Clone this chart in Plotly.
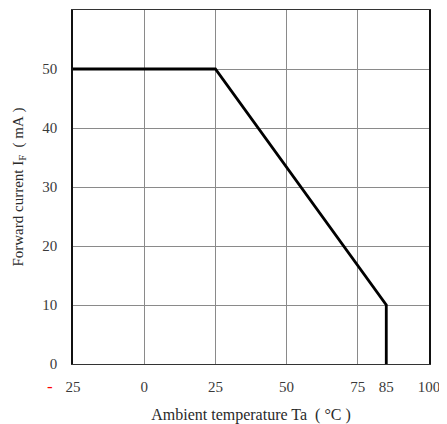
import plotly.graph_objects as go

temp = [-25, 25, 85, 85]
current = [50, 50, 10, 0]
x_ticks = [-25, 0, 25, 50, 75, 85, 100]
x_labels = ["25", "0", "25", "50", "75", "85", "100"]
y_ticks = [0, 10, 20, 30, 40, 50]
y_labels = ["0", "10", "20", "30", "40", "50"]

serif = "Liberation Serif, Times New Roman, serif"
tickfont = dict(family=serif, size=15, color="#3a3a3a")
titlefont = dict(family=serif, size=16, color="#2a2a2a")

fig = go.Figure()
fig.add_trace(go.Scatter(x=temp, y=current, mode="lines",
                         line=dict(color="black", width=2.8), showlegend=False,
                         hoverinfo="skip"))
# invisible trace for the label axis
fig.add_trace(go.Scatter(x=[-25, 100], y=[0, 0], xaxis="x2", mode="markers",
                         marker=dict(opacity=0), showlegend=False, hoverinfo="skip"))

fig.update_layout(
    width=439, height=416,
    margin=dict(l=65, r=18, t=2, b=60),
    paper_bgcolor="white", plot_bgcolor="white",
    font=tickfont,
    xaxis=dict(range=[-25, 100], dtick=25, tick0=-25, showgrid=True,
               gridcolor="#8a8a8a", gridwidth=1, showticklabels=False,
               ticks="", showline=True, linecolor="#333333", linewidth=1.3,
               mirror=True, zeroline=False,
               title=dict(text="Ambient temperature Ta\u00a0\u00a0(\u00a0°C\u00a0)", standoff=46,
                          font=titlefont)),
    xaxis2=dict(range=[-25, 100], overlaying="x", side="bottom",
                tickvals=x_ticks, ticktext=x_labels, showgrid=False,
                zeroline=False, showline=False, ticks="outside", ticklen=9,
                tickcolor="rgba(0,0,0,0)", tickfont=tickfont),
    yaxis=dict(range=[0, 60], tickvals=y_ticks + [60], ticktext=y_labels + [""],
               showgrid=True, gridcolor="#8a8a8a", gridwidth=1, ticks="outside",
               ticklen=11, tickcolor="rgba(0,0,0,0)", tickfont=tickfont,
               showline=True, linecolor="#111111", linewidth=1.5, mirror=True,
               zeroline=False,
               title=dict(text="Forward current I<sub>F</sub>\u00a0\u00a0(\u00a0mA\u00a0)", standoff=15,
                          font=dict(family=serif, size=15, color="#2a2a2a"))),
)
fig.add_annotation(x=-25, y=0, xref="x", yref="paper", text="-", showarrow=False,
                   xanchor="center", yanchor="middle",
                   xshift=-23.5, yshift=-22, font=dict(family=serif, size=17, color="#ff0000"))

fig.write_html("out.html")
